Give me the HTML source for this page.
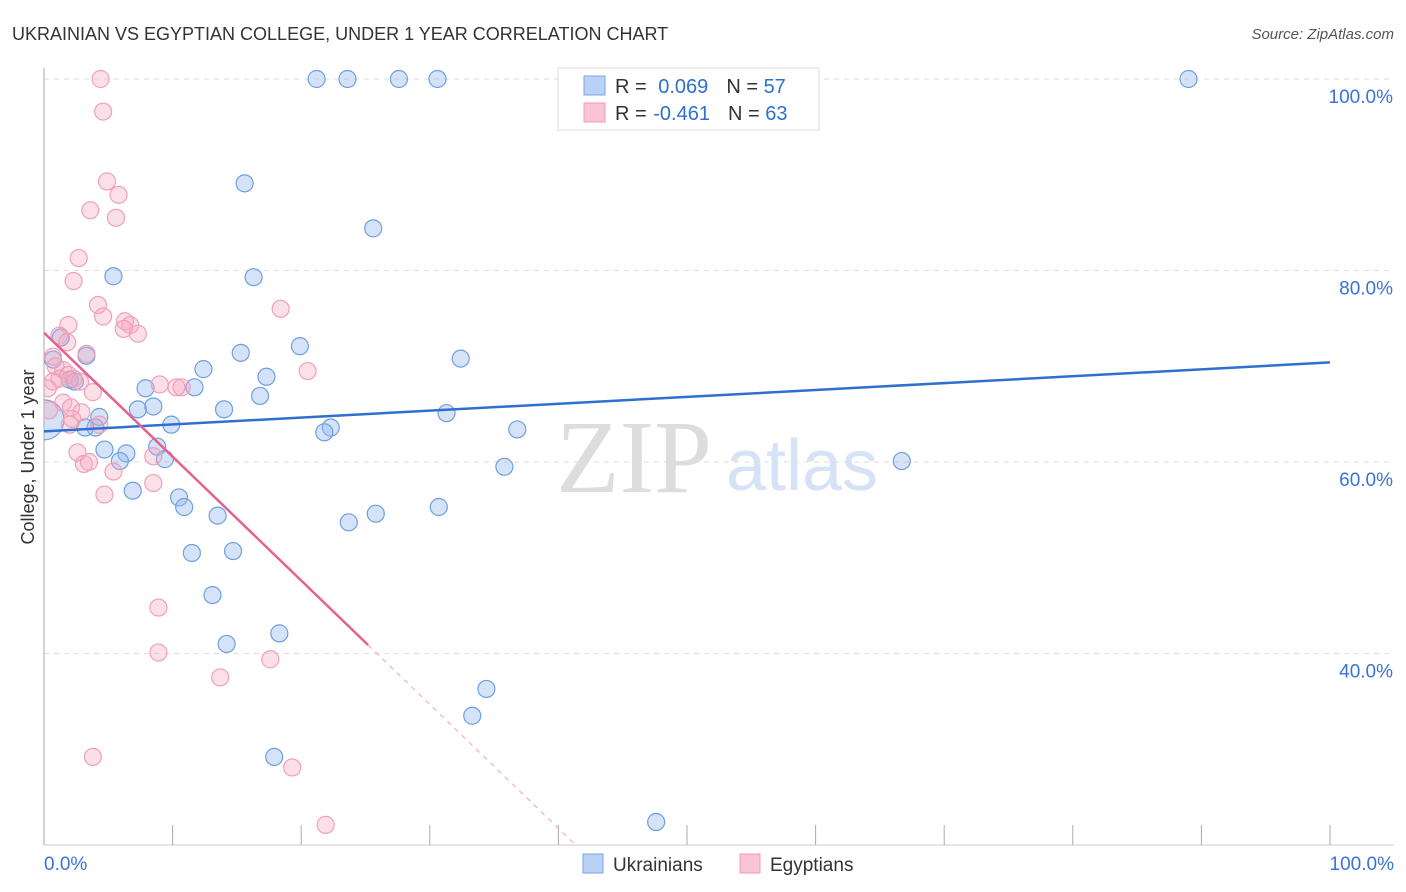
<!DOCTYPE html>
<html><head><meta charset="utf-8"><style>
body{margin:0;background:#fff;font-family:"Liberation Sans",sans-serif}
svg{display:block}
</style></head><body>
<svg width="1406" height="892" id="chart" xmlns="http://www.w3.org/2000/svg">
<defs><clipPath id="plotclip"><rect x="44" y="60" width="1360" height="786"/></clipPath></defs>
<text x="12" y="40" font-size="18" fill="#333">UKRAINIAN VS EGYPTIAN COLLEGE, UNDER 1 YEAR CORRELATION CHART</text>
<text x="1394" y="39" font-size="15" fill="#555" font-style="italic" text-anchor="end">Source: ZipAtlas.com</text>
<text x="634" y="492" font-size="104" fill="#ddd" font-family="Liberation Serif,serif" text-anchor="middle">ZIP</text>
<text x="802" y="490" font-size="72" fill="#d6e2f5" text-anchor="middle">atlas</text>
<g id="grid"></g>
<g id="marks" clip-path="url(#plotclip)"></g>
<text transform="translate(34,457) rotate(-90)" font-size="18" fill="#333" text-anchor="middle">College, Under 1 year</text>
<g>
<rect x="558" y="68" width="261" height="62" fill="#fff" stroke="#ddd"/>
<rect x="584" y="76" width="21" height="19" fill="#b9d1f5" stroke="#7aa6e6"/>
<rect x="584" y="103" width="21" height="19" fill="#f9c4d3" stroke="#f09ab4"/>
<text x="615" y="93" font-size="20" fill="#333">R = <tspan fill="#2f6fd0" dx="6">0.069</tspan><tspan dx="18">N = </tspan><tspan fill="#2f6fd0">57</tspan></text>
<text x="615" y="120" font-size="20" fill="#333">R = <tspan fill="#2f6fd0" dx="1">-0.461</tspan><tspan dx="18">N = </tspan><tspan fill="#2f6fd0">63</tspan></text>
</g>
<g>
<rect x="583" y="854" width="20" height="19" fill="#b9d1f5" stroke="#7aa6e6"/>
<text x="613" y="871" font-size="19" fill="#333">Ukrainians</text>
<rect x="740" y="854" width="20" height="19" fill="#f9c4d3" stroke="#f09ab4"/>
<text x="770" y="871" font-size="19" fill="#333">Egyptians</text>
</g>
</svg>
<script>
const blueX=[21.2,23.6,27.6,30.6,89.0,15.6,25.6,5.4,16.3,1.3,3.3,15.3,19.9,32.4,12.4,17.3,7.9,11.7,16.8,8.5,7.3,14.0,31.3,9.9,22.3,21.8,4.0,36.8,4.3,4.7,6.4,8.8,5.9,9.4,35.8,66.7,6.9,10.5,10.9,30.7,13.5,25.8,23.7,14.7,11.5,13.1,14.2,18.3,34.4,33.3,17.9,47.6,2.4,0.7,2.0,3.2];
const blueY=[100,100,100,100,100,89.1,84.4,79.4,79.3,73.0,71.1,71.4,72.1,70.8,69.7,68.9,67.7,67.8,66.9,65.8,65.5,65.5,65.1,63.9,63.6,63.1,63.6,63.4,64.7,61.3,60.9,61.6,60.1,60.3,59.5,60.1,57.0,56.3,55.3,55.3,54.4,54.6,53.7,50.7,50.5,46.1,41.0,42.1,36.3,33.5,29.2,22.4,68.4,70.7,68.6,63.6];
const pinkX=[4.4,4.6,4.9,5.8,3.6,5.6,2.7,2.3,4.2,4.6,1.9,18.4,6.3,6.7,6.2,7.3,1.2,1.8,3.3,0.7,0.9,1.5,1.9,1.2,0.7,2.3,2.8,9.0,10.3,10.7,20.5,0.3,3.8,1.5,2.1,0.4,2.9,2.2,4.3,2.0,2.6,8.5,3.1,3.5,5.4,8.5,4.7,8.9,8.9,13.7,17.6,3.8,19.3,21.9];
const pinkY=[100,96.6,89.3,87.9,86.3,85.5,81.3,78.9,76.4,75.2,74.3,76.0,74.7,74.3,73.9,73.4,73.2,72.5,71.3,71.0,70.0,69.6,69.1,68.7,68.4,68.7,68.4,68.1,67.8,67.8,69.5,67.7,67.3,66.2,65.7,65.4,65.2,64.5,63.9,63.9,61.0,60.6,59.8,60.0,59.0,57.8,56.6,44.8,40.1,37.5,39.4,29.2,28.1,22.1];
const yTicks=[100,80,60,40];
const yTickLabels=["100.0%","80.0%","60.0%","40.0%"];
const blueTrend=[63.2,70.4];
const pinkTrend=[73.5,-1.294];
const NS="http://www.w3.org/2000/svg";
const sx=v=>44+v*12.86;
const sy=v=>79+(100-v)*9.575;
function mk(tag,attrs,parent){const e=document.createElementNS(NS,tag);for(const k in attrs)e.setAttribute(k,attrs[k]);parent.appendChild(e);return e;}
const grid=document.getElementById('grid'),marks=document.getElementById('marks');
yTicks.forEach((t,i)=>{
 const l=mk('line',{x1:44,x2:1394,y1:sy(t),y2:sy(t),stroke:'#ddd','stroke-dasharray':'5,5'},grid);
 
 
 const tx=mk('text',{x:1393,y:sy(t)+24,'font-size':19,fill:'#3a72d6','text-anchor':'end'},grid);
 tx.textContent=yTickLabels[i];
 
 
});
const ax=mk('line',{x1:44,x2:44,y1:68,y2:845,stroke:'#aaa'},grid);


const bx=mk('line',{x1:44,x2:1394,y1:845,y2:845,stroke:'#ccc'},grid);


for(let i=0;i<=10;i++){
 const t=mk('line',{x1:sx(i*10),x2:sx(i*10),y1:825,y2:845,stroke:'#aaa'},grid);
 
 
}
const xl=mk('text',{x:44,y:870,'font-size':19,fill:'#3a72d6'},grid);xl.textContent='0.0%';


const xr=mk('text',{x:1394,y:870,'font-size':19,fill:'#3a72d6','text-anchor':'end'},grid);xr.textContent='100.0%';


blueX.forEach((x,i)=>{
 const c=mk('circle',{cx:sx(x),cy:sy(blueY[i]),r:8.5,fill:'rgba(150,185,240,0.4)',stroke:'#6f9fe0','stroke-width':1.2},marks);
 
 
});
const big=mk('circle',{cx:sx(0),cy:sy(64.4),r:20,fill:'rgba(150,185,240,0.4)',stroke:'#6f9fe0','stroke-width':1.2},marks);


pinkX.forEach((x,i)=>{
 const c=mk('circle',{cx:sx(x),cy:sy(pinkY[i]),r:8.5,fill:'rgba(245,165,190,0.35)',stroke:'#f0a0b8','stroke-width':1.2},marks);
 
 
});
const bl=mk('line',{x1:sx(0),y1:sy(blueTrend[0]),x2:sx(100),y2:sy(blueTrend[1]),stroke:'#2f6fd0','stroke-width':2.5},marks);


const pEnd=25.2, pZero=(pinkTrend[0]-20)/-pinkTrend[1];
const pl=mk('line',{x1:sx(0),y1:sy(pinkTrend[0]),x2:sx(pEnd),y2:sy(pinkTrend[0]+pinkTrend[1]*pEnd),stroke:'#e8608f','stroke-width':2.5},marks);


const pd=mk('line',{x1:sx(pEnd),y1:sy(pinkTrend[0]+pinkTrend[1]*pEnd),x2:sx(pZero),y2:sy(20),stroke:'#f0a0b8','stroke-width':1,'stroke-dasharray':'5,5'},marks);


</script>
</body></html>
